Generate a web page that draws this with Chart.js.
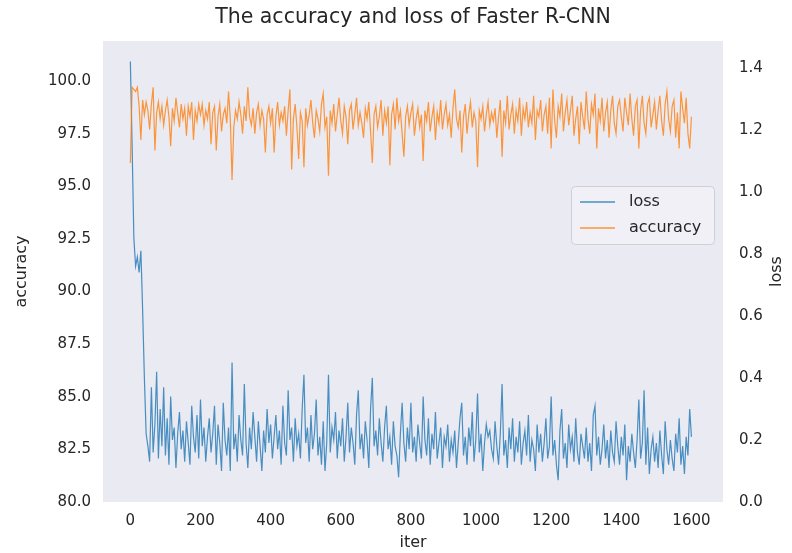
<!DOCTYPE html>
<html>
<head>
<meta charset="utf-8">
<script src="https://cdn.jsdelivr.net/npm/chart.js@4"></script>
<style>
  html, body { margin: 0; padding: 0; background: #fff; }
</style>
</head>
<body>
<canvas id="chart" width="792" height="553"></canvas>
<script>
const loss = [
  1.42, 1.15, 0.85, 0.76, 0.79, 0.74, 0.81, 0.62, 0.40, 0.22, 0.18, 0.13, 0.37, 0.16, 0.25, 0.42, 0.14, 0.30, 0.18, 0.37,
  0.15, 0.27, 0.12, 0.34, 0.20, 0.24, 0.11, 0.22, 0.29, 0.17, 0.23, 0.13, 0.26, 0.19, 0.12, 0.31, 0.21, 0.16, 0.28, 0.14,
  0.33, 0.18, 0.24, 0.13, 0.21, 0.27, 0.16, 0.22, 0.31, 0.12, 0.25, 0.19, 0.10, 0.32, 0.20, 0.15, 0.24, 0.10, 0.45, 0.17,
  0.22, 0.13, 0.28, 0.20, 0.15, 0.38, 0.19, 0.11, 0.24, 0.17, 0.29, 0.21, 0.13, 0.26, 0.18, 0.10, 0.23, 0.16, 0.30, 0.19,
  0.25, 0.14, 0.21, 0.28, 0.17, 0.23, 0.12, 0.31, 0.19, 0.15, 0.36, 0.20, 0.24, 0.13, 0.27, 0.18, 0.22, 0.14, 0.30, 0.41,
  0.19, 0.24, 0.13, 0.28, 0.17, 0.22, 0.33, 0.15, 0.21, 0.12, 0.26, 0.10, 0.19, 0.41, 0.16, 0.24, 0.20, 0.29, 0.14, 0.23,
  0.18, 0.27, 0.13, 0.21, 0.32, 0.16, 0.24, 0.19, 0.12, 0.28, 0.36, 0.17, 0.22, 0.14, 0.26, 0.20, 0.11, 0.30, 0.40, 0.18,
  0.23, 0.15, 0.27, 0.19, 0.13, 0.24, 0.31, 0.17, 0.21, 0.12, 0.26, 0.18, 0.15, 0.08, 0.22, 0.32, 0.19, 0.13, 0.24, 0.17,
  0.32, 0.16, 0.21, 0.13, 0.25, 0.19, 0.14, 0.34, 0.20, 0.15, 0.27, 0.12, 0.22, 0.17, 0.29, 0.14, 0.19, 0.24, 0.11, 0.21,
  0.18, 0.25, 0.13, 0.20, 0.16, 0.23, 0.11, 0.19, 0.27, 0.32, 0.15, 0.21, 0.12, 0.24, 0.18, 0.29, 0.13, 0.20, 0.35, 0.16,
  0.22, 0.10, 0.19, 0.25, 0.21, 0.23, 0.17, 0.14, 0.26, 0.18, 0.12, 0.22, 0.38, 0.15, 0.20, 0.11, 0.24, 0.17, 0.27, 0.13,
  0.21, 0.16, 0.26, 0.12, 0.19, 0.23, 0.15, 0.28, 0.13, 0.20, 0.17, 0.10, 0.25, 0.16, 0.22, 0.13, 0.19, 0.27, 0.14, 0.18,
  0.34, 0.15, 0.20, 0.12, 0.07, 0.23, 0.30, 0.14, 0.19, 0.11, 0.25, 0.17, 0.21, 0.13, 0.27, 0.16, 0.12, 0.22, 0.18, 0.14,
  0.24, 0.13, 0.19, 0.10, 0.28, 0.31, 0.15, 0.21, 0.12, 0.17, 0.25, 0.14, 0.20, 0.11, 0.23, 0.16, 0.13, 0.26, 0.18, 0.12,
  0.21, 0.15, 0.25, 0.07, 0.18, 0.13, 0.22, 0.16, 0.11, 0.20, 0.33, 0.14, 0.19, 0.36, 0.12, 0.24, 0.09, 0.17, 0.21, 0.13,
  0.19, 0.11, 0.23, 0.15, 0.09, 0.26, 0.17, 0.12, 0.20, 0.14, 0.10, 0.22, 0.16, 0.27, 0.12, 0.18, 0.09, 0.21, 0.15, 0.30,
  0.21
];

const accuracy = [
  96.1, 99.7, 99.6, 99.5, 99.7, 98.8, 97.2, 99.1, 98.4, 99.0, 98.6, 97.7, 98.9, 99.7, 96.7, 98.5, 99.0, 98.2, 98.8, 97.9,
  98.6, 99.1, 98.3, 96.9, 98.7, 98.1, 99.2, 98.5, 97.8, 98.9, 98.2, 98.7, 97.4, 98.8, 98.3, 99.0, 97.2, 98.6, 98.1, 98.9,
  98.4, 98.9, 97.9, 98.6, 98.2, 99.0, 97.0, 98.5, 98.8, 96.7, 98.3, 98.9, 97.6, 98.4, 98.7, 98.0, 99.5, 98.2, 95.3, 97.8,
  98.6, 98.2, 99.0, 98.4, 97.5, 98.8, 98.1, 99.7, 98.3, 97.9, 98.7, 97.5, 98.5, 98.9, 97.9, 98.6, 98.2, 96.6, 98.4, 98.8,
  98.0, 98.7, 96.6, 98.3, 99.0, 97.9, 98.5, 98.1, 98.8, 97.4, 98.6, 99.6, 95.8, 98.2, 98.9, 97.8, 96.3, 98.5, 98.1, 95.9,
  98.7, 97.9, 98.4, 99.1, 98.0, 97.3, 98.6, 98.2, 97.6, 98.9, 99.4, 97.8, 98.3, 95.5, 98.6, 98.0, 98.9, 97.6, 98.4, 99.2,
  98.1, 97.5, 98.8, 98.3, 97.0, 98.6, 98.9, 97.7, 98.4, 99.2, 97.9, 98.5, 98.0, 97.3, 98.7, 98.2, 99.0, 97.6, 96.1, 98.4,
  98.8, 97.8, 98.3, 99.1, 97.4, 98.6, 98.0, 98.8, 96.0, 98.4, 98.9, 97.7, 99.2, 98.1, 98.6, 97.5, 96.4, 98.3, 98.8, 97.9,
  98.5, 98.9, 97.4, 98.2, 98.7, 97.8, 98.4, 96.2, 98.6, 98.1, 99.0, 97.6, 98.3, 98.8, 97.2, 98.5, 98.0, 99.1, 97.7, 98.4,
  98.9, 97.9, 98.4, 97.3, 98.7, 99.6, 98.2, 97.8, 98.6, 96.6, 98.3, 98.9, 97.5, 98.4, 99.0, 97.8, 98.5, 98.1, 95.9, 98.6,
  98.2, 98.8, 97.6, 98.4, 99.0, 97.9, 98.5, 98.1, 98.7, 97.3, 98.3, 99.1, 96.4, 98.6, 98.0, 99.3, 97.7, 98.4, 98.9, 97.5,
  98.6, 98.1, 99.2, 97.4, 98.7, 98.2, 99.0, 97.8, 98.5, 98.0, 99.3, 97.2, 98.6, 98.3, 99.1, 97.6, 98.4, 98.8, 97.5, 99.2,
  96.8, 99.6, 98.1, 97.3, 98.8, 98.3, 99.4, 97.6, 98.5, 99.1, 97.9, 98.6, 99.3, 97.4, 98.2, 98.8, 97.0, 99.0, 98.3, 97.7,
  99.5, 98.2, 97.5, 98.9, 98.4, 99.4, 96.8, 98.7, 98.1, 99.2, 97.6, 98.5, 99.0, 97.3, 98.6, 99.3, 98.0, 97.5, 98.8, 99.1,
  98.3, 97.6, 99.2, 98.5, 97.9, 99.4, 98.2, 97.4, 98.8, 99.1, 96.8, 98.6, 99.3, 98.0, 97.5, 98.9, 99.2, 97.8, 98.4, 99.0,
  97.7, 98.6, 99.3, 98.1, 97.4, 98.9, 99.5, 98.2, 97.6, 98.8, 99.1, 97.3, 98.5, 96.8, 99.5, 98.7, 98.0, 99.2, 97.5, 96.8,
  98.3
];

const STEP = 5;
const iters = loss.map((_, i) => i * STEP);

const xTicks   = [0, 200, 400, 600, 800, 1000, 1200, 1400, 1600];
const accTicks = [80, 82.5, 85, 87.5, 90, 92.5, 95, 97.5, 100];
const lossTicks = [0, 0.2, 0.4, 0.6, 0.8, 1.0, 1.2, 1.4];

const BLUE   = 'rgba(31,119,180,0.8)';
const ORANGE = 'rgba(255,127,14,0.8)';
const FONT   = '"DejaVu Sans", sans-serif';
const TEXT   = '#262626';

// axes background, titles, legend drawn by hand (matplotlib look)
const decor = {
  id: 'decor',
  beforeDraw(chart) {
    const { ctx, chartArea: a } = chart;
    ctx.save();
    ctx.fillStyle = '#EAEAF2';
    ctx.fillRect(a.left, a.top, a.right - a.left, a.bottom - a.top);
    ctx.restore();
  },
  afterDraw(chart) {
    const { ctx, chartArea: a } = chart;
    const cx = (a.left + a.right) / 2;
    const cy = (a.top + a.bottom) / 2;
    ctx.save();
    ctx.fillStyle = TEXT;
    ctx.textAlign = 'center';
    ctx.textBaseline = 'middle';

    ctx.font = '20.5px ' + FONT;
    ctx.fillText('The accuracy and loss of Faster R-CNN', cx, 18);

    ctx.font = '16px ' + FONT;
    ctx.fillText('iter', cx, 543);

    ctx.save();
    ctx.translate(22, cy);
    ctx.rotate(-Math.PI / 2);
    ctx.fillText('accuracy', 0, 0);
    ctx.restore();

    ctx.save();
    ctx.translate(777, cy);
    ctx.rotate(-Math.PI / 2);
    ctx.fillText('loss', 0, 0);
    ctx.restore();

    // legend
    const lx = 571, ly = 186, lw = 143, lh = 58;
    ctx.beginPath();
    ctx.roundRect(lx + 0.5, ly + 0.5, lw, lh, 4);
    ctx.fillStyle = 'rgba(255,255,255,0.3)';
    ctx.fill();
    ctx.strokeStyle = '#cfcfd6';
    ctx.lineWidth = 1;
    ctx.stroke();

    const items = [['loss', BLUE, 202], ['accuracy', ORANGE, 228]];
    ctx.textAlign = 'left';
    items.forEach(([label, col, y]) => {
      ctx.beginPath();
      ctx.moveTo(580, y);
      ctx.lineTo(615, y);
      ctx.strokeStyle = col;
      ctx.lineWidth = 1.5;
      ctx.stroke();
      ctx.fillStyle = TEXT;
      ctx.fillText(label, 629, y);
    });
    ctx.restore();
  }
};

new Chart(document.getElementById('chart'), {
  type: 'line',
  data: {
    labels: iters,
    datasets: [
      { label: 'accuracy', data: accuracy, yAxisID: 'y', borderColor: ORANGE, borderWidth: 1.2, order: 0 },
      { label: 'loss', data: loss, yAxisID: 'y1', borderColor: BLUE, borderWidth: 1.2, order: 1 }
    ]
  },
  options: {
    responsive: false,
    animation: false,
    layout: { padding: { top: 41, left: 0, right: 0, bottom: 0 } },
    elements: { point: { radius: 0 }, line: { tension: 0 } },
    plugins: { legend: { display: false }, tooltip: { enabled: false }, title: { display: false } },
    scales: {
      x: {
        type: 'linear', min: -78, max: 1690,
        grid: { display: false, drawTicks: false }, border: { display: false },
        afterBuildTicks: s => { s.ticks = xTicks.map(v => ({ value: v })); },
        afterFit: s => { s.height = 51; },
        ticks: { color: TEXT, font: { family: FONT, size: 15 }, padding: 10, maxRotation: 0,
                 callback: v => String(v) }
      },
      y: {
        position: 'left', min: 80, max: 101.9,
        grid: { display: false, drawTicks: false }, border: { display: false },
        afterBuildTicks: s => { s.ticks = accTicks.map(v => ({ value: v })); },
        afterFit: s => { s.width = 103; },
        ticks: { color: TEXT, font: { family: FONT, size: 15 }, padding: 12,
                 callback: v => v.toFixed(1) }
      },
      y1: {
        position: 'right', min: 0, max: 1.486,
        grid: { display: false, drawTicks: false }, border: { display: false },
        afterBuildTicks: s => { s.ticks = lossTicks.map(v => ({ value: v })); },
        afterFit: s => { s.width = 69; },
        ticks: { color: TEXT, font: { family: FONT, size: 15 }, padding: 16,
                 callback: v => v.toFixed(1) }
      }
    }
  },
  plugins: [decor]
});
</script>
</body>
</html>
